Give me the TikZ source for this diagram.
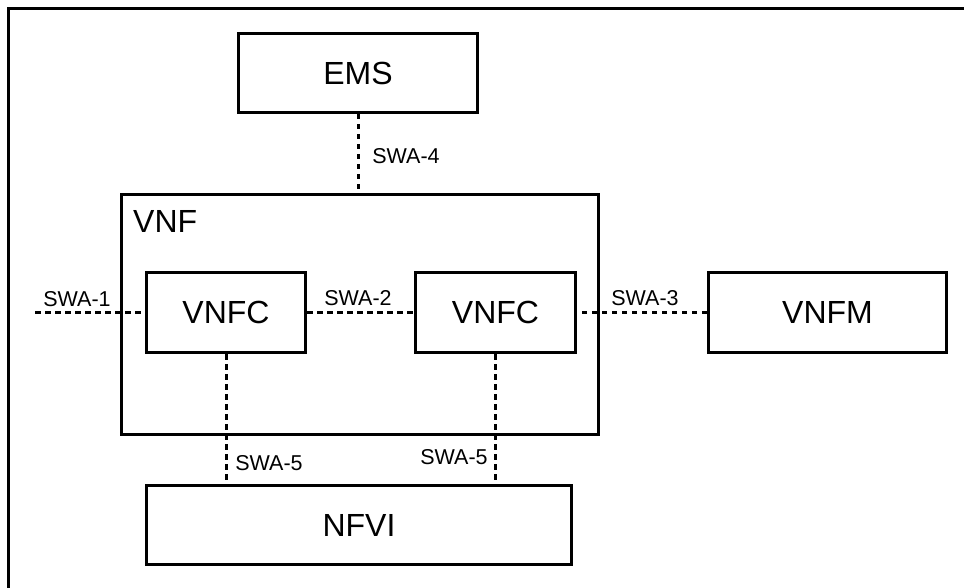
\documentclass[tikz,border=0pt]{standalone}
\usepackage{fontspec}
\setmainfont{Liberation Sans}
\begin{document}
\begin{tikzpicture}[x=1pt,y=-1pt,
  blk/.style={draw=black,line width=3pt,fill=white,inner sep=0pt,
    font=\fontsize{32}{32}\selectfont},
  iface/.style={line width=3pt,dash pattern=on 5.5pt off 4.5pt},
  lbl/.style={inner sep=0pt,font=\fontsize{21.5}{21.5}\selectfont}]
\useasboundingbox (0,0) rectangle (964,588);
% outer frame (top and left edges inside the page)
\draw[line width=3pt] (8.5,600) -- (8.5,8.5) -- (980,8.5);

% VNF container
\node[blk,minimum width=477pt,minimum height=239pt,anchor=north west] (vnf) at (119.5,193.5) {};
\node[anchor=west,inner sep=0pt,font=\fontsize{32}{32}\selectfont] (vnflbl) at (133,221) {VNF};

% blocks
\node[blk,minimum width=239pt,minimum height=79pt] (ems) at (358,73) {EMS};
\node[blk,minimum width=159pt,minimum height=80pt] (vnfc1) at (226,312.5) {VNFC};
\node[blk,minimum width=160pt,minimum height=80pt] (vnfc2) at (495.5,312.5) {VNFC};
\node[blk,minimum width=238pt,minimum height=80pt] (vnfm) at (827.5,312.5) {VNFM};
\node[blk,minimum width=425pt,minimum height=79pt] (nfvi) at (359,525) {NFVI};

% reference points
\coordinate (ext) at (35,312.5);

% interfaces
\draw[iface] ([xshift=0.5pt]ems.south) -- ([xshift=0.5pt]ems.south |- vnf.north);
\draw[iface] (ext) -- (vnfc1.west);
\draw[iface] (vnfc1.east) -- (vnfc2.west);
\draw[iface] (vnfm.west) -- (vnfc2.east);
\draw[iface] ([xshift=0.5pt]vnfc1.south) -- ([xshift=0.5pt]vnfc1.south |- nfvi.north);
\draw[iface] (vnfc2.south) -- (vnfc2.south |- nfvi.north);

% interface labels
\node[lbl] (l4) at (406,156) {SWA-4};
\node[lbl] (l1) at (77,299) {SWA-1};
\node[lbl] (l2) at (358,298) {SWA-2};
\node[lbl] (l3) at (645,298) {SWA-3};
\node[lbl] (l5a) at (269,463) {SWA-5};
\node[lbl] (l5b) at (454,457) {SWA-5};
\end{tikzpicture}
\end{document}
